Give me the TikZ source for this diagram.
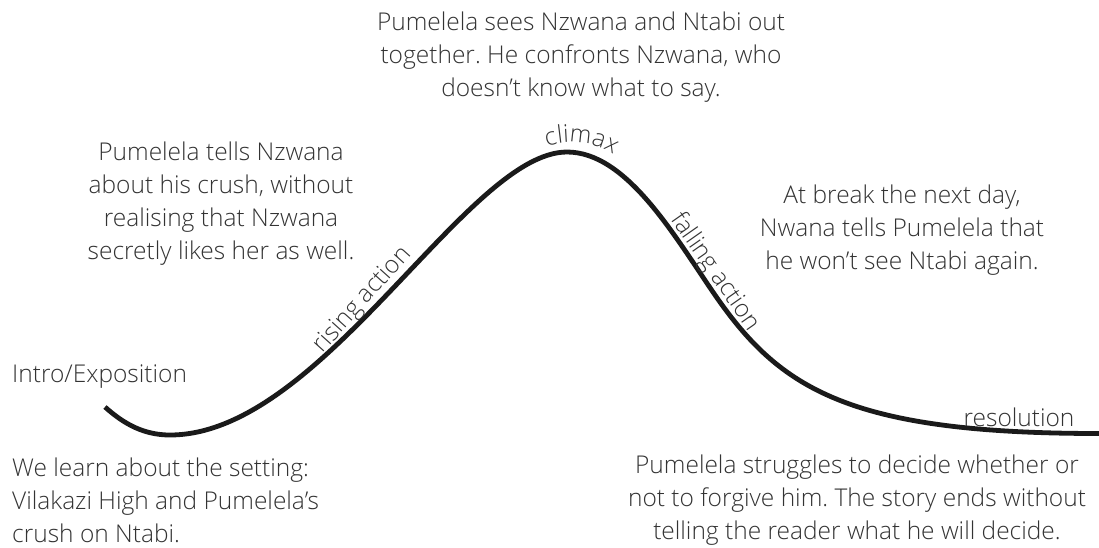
\documentclass[tikz,border=0pt]{standalone}
\usepackage{fontspec}
\setmainfont{Open Sans}[UprightFont=* Light]
\frenchspacing
\usetikzlibrary{decorations.text}
\definecolor{txt}{HTML}{333333}
\definecolor{ink}{HTML}{1A1A1A}
\tikzset{
  story/.style={font=\fontsize{24.5}{33}\selectfont, text=txt, inner sep=0pt, align=center},
  lbl/.style={font=\fontsize{24.5}{28}\selectfont, text=txt, inner sep=0pt},
  arc/.style={line width=4.8pt, ink, line cap=butt}
}
\begin{document}
\begin{tikzpicture}[x=1pt,y=-1pt]
\useasboundingbox (0,0) rectangle (1099,547);
% plot curve
\coordinate (start) at (105,407);
\coordinate (low) at (170,435);
\coordinate (peak) at (567,152);
\coordinate (infl) at (715,295);
\coordinate (end) at (1099,433.5);
\draw[arc] (start) .. controls (125,425) and (145,435) .. (low)
  .. controls (322,435) and (467,152) .. (peak)
  .. controls (627,152) and (675,237) .. (infl)
  .. controls (780,389) and (849,433.5) .. (end);
% curve labels
\node[lbl, rotate=48] (rise) at (363,300) {rising action};
\node[lbl, rotate=-55] (fall) at (715,272) {falling action};
\node[lbl] (res) at (1019,417) {resolution};
\path[decorate, decoration={text along path, text={|\fontsize{24.5}{28}\selectfont\color{txt}|climax}, text align=center}]
  (532,154) .. controls (552,138) and (600,136) .. (626,166);
% texts
\node[story] (top) at (581,57) {Pumelela sees Nzwana and Ntabi out\\together. He confronts Nzwana, who\\doesn’t know what to say.};
\node[story] (left) at (221,204) {Pumelela tells Nzwana\\about his crush, without\\realising that Nzwana\\secretly likes her as well.};
\node[story] (right) at (902,230) {At break the next day,\\Nwana tells Pumelela that\\he won’t see Ntabi again.};
\node[story, anchor=west] (intro) at (12,377) {Intro/Exposition};
\node[story, align=left, anchor=west] (bl) at (12,500) {We learn about the setting:\\Vilakazi High and Pumelela’s\\crush on Ntabi.};
\node[story] (br) at (857,500) {Pumelela struggles to decide whether or\\not to forgive him. The story ends without\\telling the reader what he will decide.};
\end{tikzpicture}
\end{document}
